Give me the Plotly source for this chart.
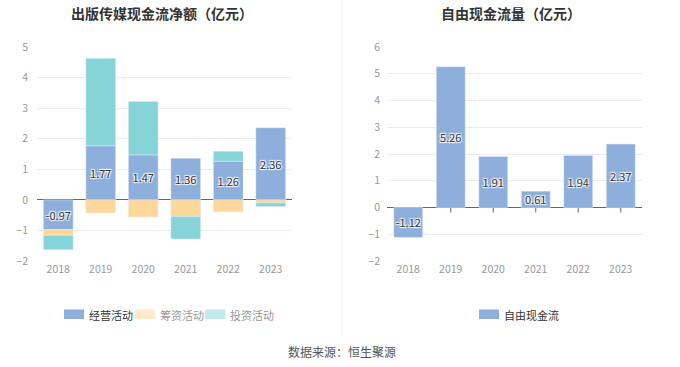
import plotly.graph_objects as go

W, H = 680, 367

years = ["2018", "2019", "2020", "2021", "2022", "2023"]
operating = [-0.97, 1.77, 1.47, 1.36, 1.26, 2.36]
financing = [-0.19, -0.43, -0.56, -0.54, -0.39, -0.10]
investing = [-0.47, 2.86, 1.75, -0.74, 0.33, -0.12]
free_cf = [-1.12, 5.26, 1.91, 0.61, 1.94, 2.37]

left_ticks = [-2, -1, 0, 1, 2, 3, 4, 5]
right_ticks = [-2, -1, 0, 1, 2, 3, 4, 5, 6]

C_OP = "#8eaedb"
C_FIN = "#fed89b"
C_INV = "#86d4d8"
C_OP_L = "#8eaedb"
C_FIN_L = "#ffebcc"
C_INV_L = "#c3ebed"

FONT = "Noto Sans CJK SC"
SHADOW = "1px 1px 1px #fff, -1px -1px 1px #fff, 1px -1px 1px #fff, -1px 1px 1px #fff"


def px(x):
    return x / W


def py(y):
    return 1 - y / H


fig = go.Figure()

fig.add_trace(go.Bar(x=years, y=operating, name="经营活动", marker_color=C_OP,
                     width=0.7, xaxis="x", yaxis="y",
                     text=[f"{v:.2f}" for v in operating], textposition="inside",
                     insidetextanchor="middle", textangle=0,
                     textfont=dict(size=11, color="#333", family=FONT, shadow=SHADOW),
                     showlegend=False))
fig.add_trace(go.Bar(x=years, y=financing, name="筹资活动", marker_color=C_FIN,
                     width=0.7, xaxis="x", yaxis="y", showlegend=False))
fig.add_trace(go.Bar(x=years, y=investing, name="投资活动", marker_color=C_INV,
                     width=0.7, xaxis="x", yaxis="y", showlegend=False))

fig.add_trace(go.Bar(x=years, y=free_cf, name="自由现金流", marker_color=C_OP,
                     width=0.68, xaxis="x2", yaxis="y2",
                     text=[f"{v:.2f}" for v in free_cf], textposition="inside",
                     insidetextanchor="middle", textangle=0,
                     textfont=dict(size=11, color="#333", family=FONT, shadow=SHADOW),
                     showlegend=False))

axis_font = dict(size=10.5, color="#999", family=FONT)
grid = "#e9ecf4"

fig.update_layout(
    width=W, height=H,
    margin=dict(l=0, r=0, t=0, b=0, autoexpand=False),
    paper_bgcolor="white", plot_bgcolor="white",
    barmode="relative",
    font=dict(family=FONT),
    uniformtext=dict(minsize=11, mode="show"),
    xaxis=dict(domain=[px(37), px(292)], anchor="y", type="category",
               showline=False, ticks="", tickfont=axis_font, showgrid=False,
               automargin=False),
    yaxis=dict(domain=[py(261), py(47)], anchor="x", range=[-2, 5],
               tickvals=left_ticks, tickfont=axis_font, gridcolor=grid,
               zeroline=True, zerolinecolor="#666", zerolinewidth=1,
               ticklabelstandoff=8, showline=False, automargin=False),
    xaxis2=dict(domain=[px(387), px(642)], anchor="y2", type="category",
                showline=False, ticks="", tickfont=axis_font, showgrid=False,
                automargin=False),
    yaxis2=dict(domain=[py(261), py(47)], anchor="x2", range=[-2, 6],
                tickvals=right_ticks, tickfont=axis_font, gridcolor=grid,
                zeroline=True, zerolinecolor="#666", zerolinewidth=1,
                ticklabelstandoff=6, showline=False, automargin=False),
)

shapes = []
annotations = []

# titles
annotations.append(dict(text="<b>出版传媒现金流净额（亿元）</b>", x=px(162), y=py(12.5),
                        xref="paper", yref="paper", showarrow=False,
                        font=dict(size=14, color="#333", family=FONT),
                        xanchor="center", yanchor="middle"))
annotations.append(dict(text="<b>自由现金流量（亿元）</b>", x=px(511), y=py(12.5),
                        xref="paper", yref="paper", showarrow=False,
                        font=dict(size=14, color="#333", family=FONT),
                        xanchor="center", yanchor="middle"))

# divider
shapes.append(dict(type="line", xref="paper", yref="paper", x0=px(342), x1=px(342),
                   y0=py(0), y1=py(337), line=dict(color="#f0f0f0", width=1)))

# x tick marks on right chart zero line (category index positions)
for i, _ in enumerate(years):
    shapes.append(dict(type="line", xref="x2", yref="y2", x0=i, x1=i,
                       ysizemode="pixel", yanchor=0, y0=0, y1=-5,
                       line=dict(color="#666", width=1), layer="below"))

# legends
legend_items = [
    (64, "经营活动", C_OP_L, "#333"),
    (135, "筹资活动", C_FIN_L, "#999"),
    (205, "投资活动", C_INV_L, "#999"),
    (479, "自由现金流", C_OP_L, "#333"),
]
for x0, label, col, tcol in legend_items:
    shapes.append(dict(type="rect", xref="paper", yref="paper",
                       x0=px(x0), x1=px(x0 + 20), y0=py(319), y1=py(309.5),
                       fillcolor=col, line=dict(width=0)))
    annotations.append(dict(text=label, x=px(x0 + 23), y=py(314.5), xref="paper",
                            yref="paper", showarrow=False, xanchor="left",
                            yanchor="middle",
                            font=dict(size=11, color=tcol, family=FONT)))

annotations.append(dict(text="数据来源：恒生聚源", x=px(342), y=py(351), xref="paper",
                        yref="paper", showarrow=False, xanchor="center",
                        yanchor="middle", font=dict(size=12, color="#555", family=FONT)))

fig.update_layout(shapes=shapes, annotations=annotations)

fig.write_html("out.html", config={"displayModeBar": False},
               post_script="document.body.style.margin='0';")
